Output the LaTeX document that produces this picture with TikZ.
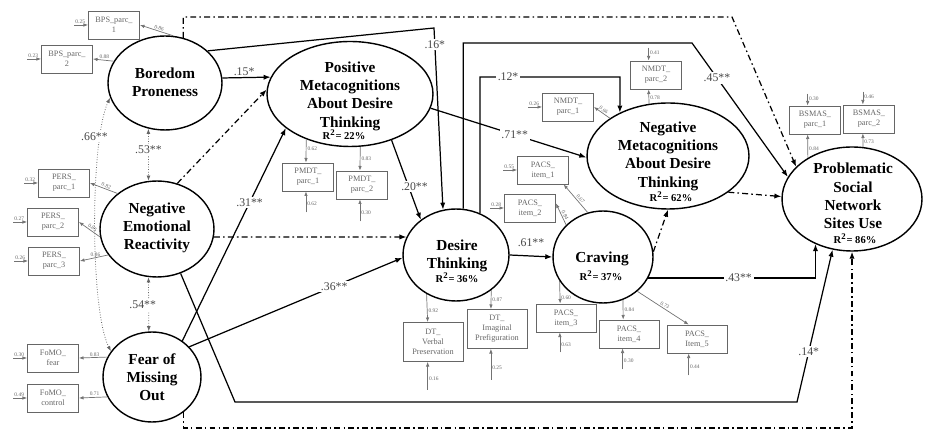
\documentclass[tikz,border=0pt]{standalone}
\usepackage{fontspec}
\setmainfont{Liberation Serif}
\usetikzlibrary{arrows.meta}
\usetikzlibrary{shapes}
\usetikzlibrary{calc}
\colorlet{indgray}{black!60}
\colorlet{coefgray}{black!72}
\tikzset{
    latent/.style={draw=black, ellipse, line width=.8pt, inner sep=0pt},
    latname/.style={align=center, inner sep=0pt,
        font=\fontsize{8.7}{10.4}\selectfont\bfseries},
    rsquare/.style={anchor=base, inner sep=0pt,
        font=\fontsize{6}{7}\selectfont\bfseries},
    indicator/.style={draw=indgray, line width=.5pt, inner sep=0pt,
        minimum width=1.02cm, minimum height=.56cm, align=center,
        text=indgray, font=\fontsize{4.7}{5.7}\selectfont},
    wideindicator/.style={indicator, minimum width=1.2cm, minimum height=.78cm},
    effect/.style={draw=black, line width=.7pt, -{Latex[length=4pt,width=3pt]}},
    nseffect/.style={effect, dash pattern=on 3.4pt off 1.8pt on .9pt off 1.8pt},
    corr/.style={draw=black!60, line width=.45pt, densely dotted,
        {Latex[length=3pt,width=2.2pt]}-{Latex[length=3pt,width=2.2pt]}},
    loading/.style={draw=black!55, line width=.4pt, -{Latex[length=2.6pt,width=2pt]}},
    residual/.style={loading},
    coef/.style={text=coefgray, inner sep=1pt, font=\fontsize{6.7}{8}\selectfont},
    gapcoef/.style={coef, fill=white},
    lval/.style={text=indgray, inner sep=.6pt, font=\fontsize{3.1}{3.6}\selectfont},
}

\begin{document}
\begin{tikzpicture}[x=0.02cm, y=-0.02cm]
	\useasboundingbox (0,0) rectangle (925,431);

	% latent variables
	\node[latent, minimum width=2.28cm, minimum height=1.88cm] (bp) at (165,83) {};
	\node[latent, minimum width=2.28cm, minimum height=1.92cm] (ner) at (157,229) {};
	\node[latent, minimum width=1.96cm, minimum height=1.80cm] (fomo) at (152,377) {};
	\node[latent, minimum width=3.32cm, minimum height=2.10cm] (pmdt) at (350,94) {};
	\node[latent, minimum width=2.12cm, minimum height=1.84cm] (dt) at (456,255) {};
	\node[latent, minimum width=2.00cm, minimum height=1.84cm] (crav) at (603,257) {};
	\node[latent, minimum width=3.24cm, minimum height=2.12cm] (nmdt) at (668,156) {};
	\node[latent, minimum width=2.80cm, minimum height=2.08cm] (psnsu) at (852,199) {};

	\node[latname] (bp-t) at (165,82) {Boredom\\Proneness};
	\node[latname] (ner-t) at (157,228) {Negative\\Emotional\\Reactivity};
	\node[latname] (fomo-t) at (152,377) {Fear of\\Missing\\Out};
	\node[latname] (pmdt-t) at (350,96) {Positive\\Metacognitions\\About Desire\\Thinking};
	\node[latname] (dt-t) at (457,256) {Desire\\Thinking};
	\node[latname] (crav-t) at (602,259) {Craving};
	\node[latname] (nmdt-t) at (668,156) {Negative\\Metacognitions\\About Desire\\Thinking};
	\node[latname] (psnsu-t) at (853,196) {Problematic\\Social\\Network\\Sites Use};

	\node[rsquare] (pmdt-r) at (344,140) {R\textsuperscript{2}= 22\%};
	\node[rsquare] (dt-r) at (457,283) {R\textsuperscript{2}= 36\%};
	\node[rsquare] (crav-r) at (601,281) {R\textsuperscript{2}= 37\%};
	\node[rsquare] (nmdt-r) at (671,202) {R\textsuperscript{2}= 62\%};
	\node[rsquare] (psnsu-r) at (855,244) {R\textsuperscript{2}= 86\%};

	% indicators
	\node[indicator] (bps1) at (114,25) {BPS\_parc\_\\1};
	\node[indicator] (bps2) at (67,59) {BPS\_parc\_\\2};
	\node[indicator] (pers1) at (64,183) {PERS\_\\parc\_1};
	\node[indicator] (pers2) at (53,222) {PERS\_\\parc\_2};
	\node[indicator] (pers3) at (54,261) {PERS\_\\parc\_3};
	\node[indicator] (fomo1) at (53,358) {FoMO\_\\fear};
	\node[indicator] (fomo2) at (53,398) {FoMO\_\\control};
	\node[indicator] (pm1) at (308,177) {PMDT\_\\parc\_1};
	\node[indicator] (pm2) at (362,185) {PMDT\_\\parc\_2};
	\node[wideindicator] (dt1) at (433,342) {DT\_\\Verbal\\Preservation};
	\node[wideindicator] (dt2) at (497,329) {DT\_\\Imaginal\\Prefiguration};
	\node[indicator] (pa1) at (543,170) {PACS\_\\item\_1};
	\node[indicator] (pa2) at (530,208) {PACS\_\\item\_2};
	\node[indicator, minimum width=1.2cm] (pa3) at (566,318) {PACS\_\\item\_3};
	\node[indicator, minimum width=1.2cm] (pa4) at (629,334) {PACS\_\\item\_4};
	\node[indicator, minimum width=1.2cm] (pa5) at (697,339) {PACS\_\\Item\_5};
	\node[indicator] (nm1) at (568,107) {NMDT\_\\parc\_1};
	\node[indicator] (nm2) at (656,75) {NMDT\_\\parc\_2};
	\node[indicator] (bs1) at (815,120) {BSMAS\_\\parc\_1};
	\node[indicator] (bs2) at (869,119) {BSMAS\_\\parc\_2};

	% corners of the long paths
	\coordinate (c16) at (434,28);
	\coordinate (c45) at (692,43);
	\coordinate (c12) at (620,77);
	\coordinate (c14a) at (235,402);
	\coordinate (c14b) at (797,402);
	\coordinate (ctop) at (732,17);
	\coordinate (cbot) at (852,428);

	% structural paths
	\draw[effect] (bp.5) -- node[coef, above, pos=0.45] {.15*} (pmdt.168);
	\draw[effect] (bp.37) -- (c16) -- node[gapcoef, pos=0.09] {.16*} (dt.106);
	\draw[effect] (dt.81) |- (c45) -- node[gapcoef, pos=0.26] {.45**} (psnsu.161);
	\draw[effect] (dt.60) |- node[gapcoef, pos=0.6] {.12*} (c12) -- (nmdt.138);
	\draw[effect] (pmdt.350) -- node[gapcoef, pos=0.54] {.71**} (nmdt.181);
	\draw[effect] (pmdt.312) -- node[gapcoef, pos=0.58, xshift=.12cm] {.20**} (dt.135);
	\draw[nseffect] (ner.66) -- (pmdt.177);
	\draw[nseffect] (ner.352) -- (dt.160);
	\draw[effect] (fomo.50) -- node[gapcoef, pos=0.65] {.31**} (pmdt.208);
	\draw[effect] (fomo.39) -- node[gapcoef, pos=0.68] {.36**} (dt.183);
	\draw[effect] (dt.east) -- node[coef, above=4pt] {.61**} (crav.west);
	\draw[effect] (crav.335) -| node[gapcoef, pos=0.27] {.43**} (psnsu.231);
	\draw[effect] (ner.298) -- (c14a) -- (c14b) -- node[gapcoef, pos=0.33] {.14*} (psnsu.249);
	\draw[nseffect] (crav.6) -- (nmdt.south);
	\draw[nseffect] (nmdt.329) -- (psnsu.178);
	\draw[nseffect] (bp.68) |- (ctop) -- (psnsu.150);
	\draw[nseffect] (fomo.312) |- (cbot) -- (psnsu.south);

	% correlations
	\draw[corr] (bp.250) -- node[gapcoef, pos=0.41] {.53**} (ner.100);
	\draw[corr] (ner.260) -- node[gapcoef, pos=0.51, xshift=-.12cm] {.54**} (fomo.94);
	\draw[corr] (bp.195) .. controls (90,140) and (90,310) .. node[gapcoef, pos=0.2, xshift=-.12cm] {.66**} (fomo.148);

	% loadings
	\draw[loading] (bp.80) -- node[lval, sloped, above, pos=0.45] {0.86} (bps1.east);
	\draw[loading] (bp.157) -- node[lval, above, pos=0.45] {0.88} (bps2.east);
	\draw[loading] (ner.138) -- node[lval, sloped, above, pos=0.45] {0.82} (pers1.east);
	\draw[loading] (ner.188) -- node[lval, sloped, above, pos=0.45] {0.85} (pers2.east);
	\draw[loading] (ner.208) -- node[lval, above, pos=0.45] {0.86} (pers3.east);
	\draw[loading] (fomo.156) -- node[lval, above, pos=0.45] {0.83} (fomo1.east);
	\draw[loading] (fomo.204) -- node[lval, above, pos=0.45] {0.71} (fomo2.east);
	\draw[loading] (pmdt.226) -- node[lval, right, pos=0.4] {0.62} (pm1.98);
	\draw[loading] (pmdt.281) -- node[lval, right, pos=0.5] {0.83} (pm2.98);
	\draw[loading] (dt.233) -- node[lval, right, pos=0.6] {0.92} (dt1.105);
	\draw[loading] (dt.315) -- node[lval, right, pos=0.5] {0.87} (dt2.107);
	\draw[loading] (crav.109) -- node[lval, sloped, above, pos=0.4] {0.67} (pa1.325);
	\draw[loading] (crav.139) -- node[lval, sloped, above, pos=0.4] {0.84} (pa2.10);
	\draw[loading] (crav.209) -- node[lval, right, pos=0.75] {0.60} (pa3.112);
	\draw[loading] (crav.295) -- node[lval, right, pos=0.5] {0.84} (pa4.112);
	\draw[loading] (crav.315) -- node[lval, sloped, above, pos=0.5] {0.73} (pa5.120);
	\draw[loading] (nmdt.147) -- node[lval, sloped, above, pos=0.5] {0.66} (nm1.east);
	\draw[loading] (nmdt.110) -- node[lval, right, pos=0.4] {0.78} (nm2.243);
	\draw[loading] (psnsu.137) -- node[lval, right, pos=0.4] {0.84} (bs1.243);
	\draw[loading] (psnsu.78) -- node[lval, right, pos=0.4] {0.73} (bs2.247);

	% residuals
	\coordinate (bps1-e) at ($(bps1.west)+(-14,0)$);
	\coordinate (bps2-e) at ($(bps2.west)+(-14,0)$);
	\coordinate (pers1-e) at ($(pers1.west)+(-14,0)$);
	\coordinate (pers2-e) at ($(pers2.west)+(-14,0)$);
	\coordinate (pers3-e) at ($(pers3.west)+(-14,0)$);
	\coordinate (fomo1-e) at ($(fomo1.west)+(-14,0)$);
	\coordinate (fomo2-e) at ($(fomo2.west)+(-14,0)$);
	\coordinate (nm1-e) at ($(nm1.west)+(-14,0)$);
	\coordinate (pa1-e) at ($(pa1.west)+(-14,0)$);
	\coordinate (pa2-e) at ($(pa2.west)+(-14,0)$);
	\coordinate (pm1-e) at ($(pm1.262)+(0,21)$);
	\coordinate (pm2-e) at ($(pm2.262)+(0,22)$);
	\coordinate (dt1-e) at ($(dt1.255)+(0,28)$);
	\coordinate (dt2-e) at ($(dt2.253)+(0,31)$);
	\coordinate (pa3-e) at ($(pa3.247)+(0,20)$);
	\coordinate (pa4-e) at ($(pa4.246)+(0,21)$);
	\coordinate (pa5-e) at ($(pa5.240)+(0,22)$);
	\coordinate (nm2-e) at ($(nm2.117)+(0,-13)$);
	\coordinate (bs1-e) at ($(bs1.117)+(0,-12)$);
	\coordinate (bs2-e) at ($(bs2.113)+(0,-13)$);

	\draw[residual] (bps1-e) node[lval, above right] {0.25} -- (bps1.west);
	\draw[residual] (bps2-e) node[lval, above right] {0.23} -- (bps2.west);
	\draw[residual] (pers1-e) node[lval, above right] {0.32} -- (pers1.west);
	\draw[residual] (pers2-e) node[lval, above right] {0.27} -- (pers2.west);
	\draw[residual] (pers3-e) node[lval, above right] {0.26} -- (pers3.west);
	\draw[residual] (fomo1-e) node[lval, above right] {0.30} -- (fomo1.west);
	\draw[residual] (fomo2-e) node[lval, above right] {0.49} -- (fomo2.west);
	\draw[residual] (nm1-e) node[lval, above right] {0.26} -- (nm1.west);
	\draw[residual] (pa1-e) node[lval, above right] {0.55} -- (pa1.west);
	\draw[residual] (pa2-e) node[lval, above right] {0.28} -- (pa2.west);
	\draw[residual] (pm1-e) -- node[lval, right, pos=0.4] {0.62} (pm1.262);
	\draw[residual] (pm2-e) -- node[lval, right, pos=0.4] {0.30} (pm2.262);
	\draw[residual] (dt1-e) -- node[lval, right, pos=0.4] {0.16} (dt1.255);
	\draw[residual] (dt2-e) -- node[lval, right, pos=0.4] {0.25} (dt2.253);
	\draw[residual] (pa3-e) -- node[lval, right, pos=0.4] {0.63} (pa3.247);
	\draw[residual] (pa4-e) -- node[lval, right, pos=0.4] {0.30} (pa4.246);
	\draw[residual] (pa5-e) -- node[lval, right, pos=0.4] {0.44} (pa5.240);
	\draw[residual] (nm2-e) -- node[lval, right, pos=0.4] {0.41} (nm2.117);
	\draw[residual] (bs1-e) -- node[lval, right, pos=0.4] {0.30} (bs1.117);
	\draw[residual] (bs2-e) -- node[lval, right, pos=0.4] {0.46} (bs2.113);
\end{tikzpicture}
\end{document}
